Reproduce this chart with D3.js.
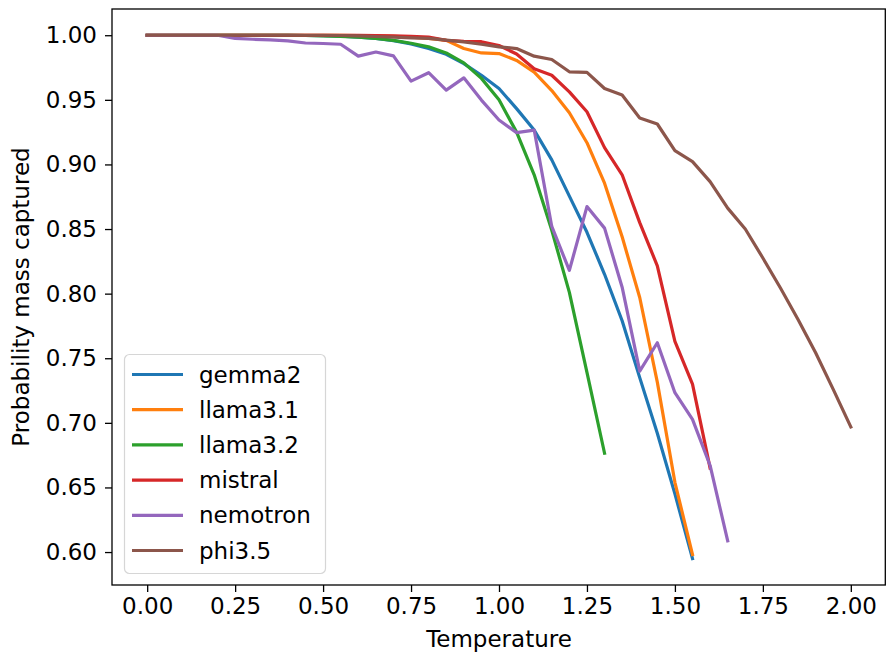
<!DOCTYPE html>
<html><head><meta charset="utf-8">
<script src="https://cdn.jsdelivr.net/npm/d3@7"></script>
<style>html,body{margin:0;padding:0;background:#fff;}svg{display:block;font-family:"DejaVu Sans",sans-serif;}</style>
</head><body>
<svg id="chart" width="886" height="661"></svg>
<script>
const temps = [0.00,0.05,0.10,0.15,0.20,0.25,0.30,0.35,0.40,0.45,0.50,0.55,0.60,0.65,0.70,0.75,0.80,0.85,0.90,0.95,1.00,1.05,1.10,1.15,1.20,1.25,1.30,1.35,1.40,1.45,1.50,1.55,1.60,1.65,1.70,1.75,1.80,1.85,1.90,1.95,2.00];
const gemma2 = [1,1,1,1,1,1,1,1,1,0.9998,0.9996,0.9992,0.9985,0.9975,0.9958,0.9933,0.9897,0.9853,0.978,0.969,0.9588,0.9432,0.9266,0.9035,0.8755,0.8475,0.815,0.779,0.735,0.692,0.645,0.595];
const llama31 = [1,1,1,1,1,1,1,1,1,1,1,0.9999,0.9998,0.9996,0.9992,0.9985,0.9975,0.996,0.9897,0.9863,0.9858,0.9805,0.9715,0.9572,0.94,0.9168,0.8855,0.844,0.797,0.7315,0.654,0.598];
const llama32 = [1,1,1,1,1,1,1,1,1,0.9998,0.9995,0.999,0.9985,0.9975,0.996,0.9938,0.991,0.9863,0.9786,0.9666,0.95,0.925,0.892,0.849,0.801,0.739,0.6765];
const mistral = [1,1,1,1,1,1,1,1,1,1,1,1,1,0.9998,0.9995,0.9992,0.9985,0.996,0.9952,0.995,0.992,0.9855,0.974,0.969,0.9562,0.9408,0.913,0.892,0.855,0.8215,0.763,0.73,0.665];
const nemotron = [1,1,1,1,1,0.9975,0.9969,0.9964,0.9956,0.994,0.9936,0.993,0.9838,0.987,0.984,0.9645,0.971,0.9575,0.967,0.9498,0.9344,0.9246,0.9266,0.852,0.818,0.8674,0.8507,0.805,0.74,0.762,0.7233,0.7027,0.667,0.6087];
const phi35 = [1,1,1,1,1,1,1,1,1,1,1,0.9998,0.9995,0.999,0.9985,0.998,0.9975,0.9962,0.9948,0.993,0.991,0.9897,0.9838,0.9812,0.9717,0.9712,0.9588,0.9537,0.936,0.9313,0.9107,0.9022,0.8867,0.8662,0.85,0.8276,0.8044,0.78,0.7542,0.7259,0.6968];
const seriesNames = ["gemma2","llama3.1","llama3.2","mistral","nemotron","phi3.5"];
const seriesValues = [gemma2, llama31, llama32, mistral, nemotron, phi35];
const colors = ["#1f77b4","#ff7f0e","#2ca02c","#d62728","#9467bd","#8c564b"];
const xTicks = [0,0.25,0.5,0.75,1.0,1.25,1.5,1.75,2.0];
const yTicks = [0.60,0.65,0.70,0.75,0.80,0.85,0.90,0.95,1.00];

const L = 112, R = 886, T = 9, B = 585;
const svg = d3.select("#chart");
const x = d3.scaleLinear().domain([-0.1, 2.1]).range([L, R]);
const y = d3.scaleLinear().domain([0.5745, 1.0203]).range([B, T]);
const FS = 23;

// lines
const line = d3.line().x(d => x(d[0])).y(d => y(d[1]));
seriesValues.forEach((vals, i) => {
  const pts = vals.map((v, j) => [temps[j], v]);
  svg.append("path").datum(pts).attr("d", line)
    .attr("fill", "none").attr("stroke", colors[i]).attr("stroke-width", 3.2)
    .attr("stroke-linejoin", "round").attr("stroke-linecap", "square");
});

// axes
const xAxis = d3.axisBottom(x).tickValues(xTicks).tickFormat(d3.format(".2f")).tickSize(7).tickPadding(6);
const yAxis = d3.axisLeft(y).tickValues(yTicks).tickFormat(d3.format(".2f")).tickSize(7).tickPadding(8);
const gx = svg.append("g").attr("transform", `translate(0,${B})`).call(xAxis);
const gy = svg.append("g").attr("transform", `translate(${L},0)`).call(yAxis);
[gx, gy].forEach(g => {
  g.select(".domain").remove();
  g.selectAll(".tick line").attr("stroke", "#000").attr("stroke-width", 1.3);
  g.selectAll(".tick text").attr("fill", "#000").style("font-size", FS + "px").style("font-family", "DejaVu Sans");
});

// frame
svg.append("rect").attr("x", L).attr("y", T).attr("width", R - L - 0.7).attr("height", B - T)
  .attr("fill", "none").attr("stroke", "#000").attr("stroke-width", 1.3);

// axis titles
svg.append("text").attr("x", (L + R) / 2).attr("y", 647).attr("text-anchor", "middle")
  .style("font-size", FS + "px").text("Temperature");
svg.append("text").attr("transform", `translate(29,${(T + B) / 2}) rotate(-90)`).attr("text-anchor", "middle")
  .style("font-size", FS + "px").text("Probability mass captured");

// legend
const lg = svg.append("g");
lg.append("rect").attr("x", 124.5).attr("y", 354.5).attr("width", 201).attr("height", 219).attr("rx", 5)
  .attr("fill", "#fff").attr("fill-opacity", 0.8).attr("stroke", "#d6d6d6").attr("stroke-width", 1.2);
seriesNames.forEach((name, i) => {
  const yy = 374.5 + i * 35.2;
  lg.append("line").attr("x1", 132).attr("x2", 183).attr("y1", yy).attr("y2", yy)
    .attr("stroke", colors[i]).attr("stroke-width", 3.2);
  lg.append("text").attr("x", 199).attr("y", yy).attr("dy", "0.35em")
    .style("font-size", FS + "px").text(name);
});
</script>
</body></html>
